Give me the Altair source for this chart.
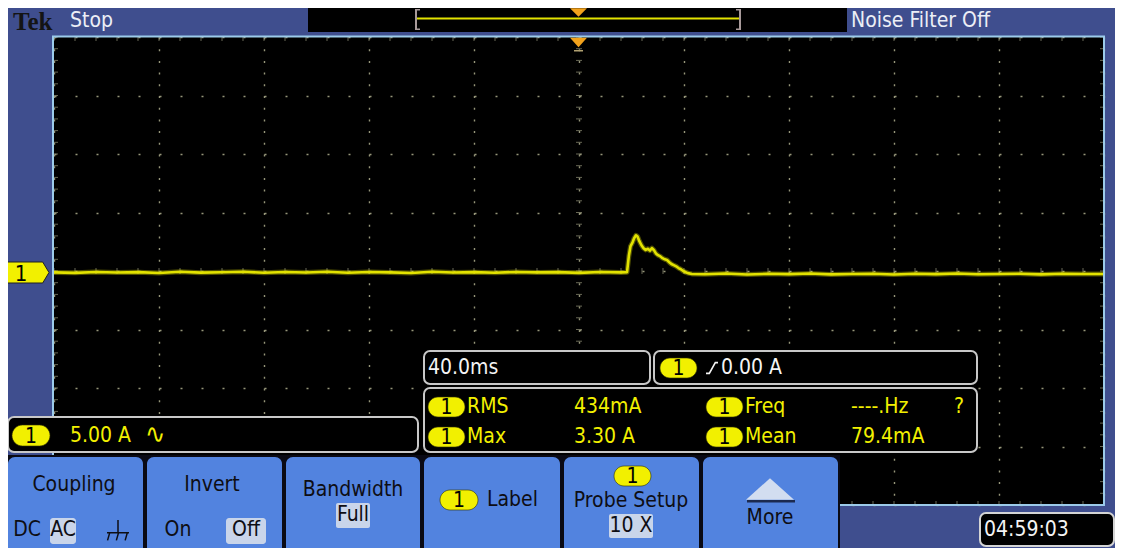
import altair as alt
import pandas as pd

# ---------------- trace data (40 ms/div, 5 A/div) ----------------
pre_t = [-200, -192, -184, -176, -168, -160, -152, -144, -136, -128, -120, -112, -104, -96,
         -88, -80, -72, -64, -56, -48, -40, -32, -24, -16, -8, 0, 8, 16]
pre_i = [-0.12, -0.16, -0.08, -0.13, -0.10, -0.17, -0.07, -0.14, -0.11, -0.06, -0.15, -0.09,
         -0.13, -0.07, -0.15, -0.09, -0.12, -0.17, -0.07, -0.13, -0.10, -0.15, -0.08, -0.12,
         -0.10, -0.16, -0.09, -0.12]
pulse_t = [18.3, 19.0, 19.6, 20.4, 21.0, 21.7, 22.3, 23.0, 23.8, 24.6, 25.4, 26.2, 27.0,
           27.8, 28.5, 29.3, 30.1, 31.0, 31.8, 32.7, 33.5, 34.4, 35.2, 36.1, 37.0, 37.9,
           38.8, 39.7, 40.6, 41.5, 43.0]
pulse_i = [-0.10, 1.30, 2.10, 2.45, 2.80, 3.05, 2.95, 2.55, 2.20, 1.95, 1.80, 1.90, 1.75,
           1.95, 1.80, 1.50, 1.35, 1.25, 1.10, 1.00, 0.95, 0.75, 0.60, 0.50, 0.40, 0.25,
           0.15, 0.00, -0.10, -0.18, -0.25]
post_t = [48, 56, 64, 72, 80, 88, 96, 104, 112, 120, 128, 136, 144, 152, 160, 168, 176,
          184, 192, 200]
post_i = [-0.28, -0.22, -0.30, -0.24, -0.27, -0.21, -0.29, -0.25, -0.23, -0.30, -0.24,
          -0.27, -0.22, -0.28, -0.25, -0.23, -0.29, -0.24, -0.26, -0.25]

time_ms = pre_t + pulse_t + post_t
current_a = pre_i + pulse_i + post_i

# graticule (10 x 8 divisions, 5 minor steps per division)
x_major = [-200 + 40 * k for k in range(11)]
y_major = [-20 + 5 * k for k in range(9)]
x_minor = [-200 + 8 * k for k in range(51)]
y_minor = [-20 + 1 * k for k in range(41)]

# on-screen readouts
status_text = "Stop"
filter_text = "Noise Filter Off"
timebase_text = "40.0ms"
trigger_text = "0.00 A"
scale_text = "5.00 A"
meas_names = ["RMS", "Max", "Freq", "Mean"]
meas_values = ["434mA", "3.30 A", "----.Hz", "79.4mA"]
clock_text = "04:59:03"

# ---------------- styling ----------------
FONT = "DejaVu Sans Condensed, Liberation Sans Narrow, Roboto Condensed, Roboto, sans-serif"
FS = 21
BEZEL = "#3f4e8e"
BTN = "#5283df"
HILITE = "#c9d5ea"
YEL = "#f2f000"
TRACE = "#e2e200"
GRID = "#96967a"
BORDER = "#9ccbea"
BOXLINE = "#c8c8c8"

OX, OY = 54, 37          # page position of plot origin
W, H = 1050, 468

one = pd.DataFrame({"k": [0]})


def X(p):
    return alt.value(p - OX)


def Y(p):
    return alt.value(p - OY)


def rect(x1, y1, x2, y2, fill=None, stroke=None, sw=1.0, r=0):
    kw = dict(cornerRadius=r)
    if fill is None:
        kw["fillOpacity"] = 0
    else:
        kw["fill"] = fill
        kw["fillOpacity"] = 1
    if stroke is not None:
        kw["stroke"] = stroke
        kw["strokeWidth"] = sw
    return alt.Chart(one).mark_rect(**kw).encode(x=X(x1), x2=X(x2), y=Y(y1), y2=Y(y2))


def text(x, y, s, color, size=FS, align="left", font=FONT, weight="normal"):
    return alt.Chart(one).mark_text(
        text=s, color=color, fontSize=size, align=align, baseline="middle",
        font=font, fontWeight=weight
    ).encode(x=X(x), y=Y(y))


def symbol(x, y, path, size, fill=None, stroke=None, sw=1.5):
    kw = dict(shape=path, size=size, opacity=1)
    if fill is not None:
        kw.update(filled=True, fill=fill, fillOpacity=1)
    else:
        kw.update(filled=False, fillOpacity=0)
    if stroke is not None:
        kw.update(stroke=stroke, strokeWidth=sw, strokeOpacity=1)
    else:
        kw.update(strokeWidth=0)
    return alt.Chart(one).mark_point(**kw).encode(x=X(x), y=Y(y))


def pill(x1, y1, x2, y2, size=FS):
    return [rect(x1, y1, x2, y2, fill=YEL, stroke="#303000", sw=0.6, r=(y2 - y1) / 2),
            text((x1 + x2) / 2, (y1 + y2) / 2 + 1, "1", "#000000", size, align="center")]


# ---------------- scales / axes ----------------
xs = alt.Scale(domain=[-200, 200], nice=False, zero=False)
ys = alt.Scale(domain=[-20, 20], nice=False, zero=False)
XAX = alt.Axis(values=x_major, grid=True, gridColor=GRID, gridDash=[2, 9.7], gridWidth=1.4,
               labels=False, ticks=False, domain=False, title=None)
YAX = alt.Axis(values=y_major, grid=True, gridColor=GRID, gridDash=[2, 19], gridWidth=1.4,
               labels=False, ticks=False, domain=False, title=None)


def xe(field):
    return alt.X(field, type="quantitative", scale=xs, axis=XAX)


def ye(field):
    return alt.Y(field, type="quantitative", scale=ys, axis=YAX)


trace_df = pd.DataFrame({"t": time_ms, "i": current_a})
xminor_df = pd.DataFrame({"t": x_minor})
yminor_df = pd.DataFrame({"i": y_minor})

layers = []

# graticule ticks: center cross and edges
layers.append(alt.Chart(xminor_df).mark_tick(orient="vertical", size=6, thickness=1, color=GRID)
              .encode(x=xe("t"), y=alt.datum(0, type="quantitative", scale=ys, axis=YAX)))
layers.append(alt.Chart(yminor_df).mark_tick(orient="horizontal", size=6, thickness=1, color=GRID)
              .encode(y=ye("i"), x=alt.datum(0, type="quantitative", scale=xs, axis=XAX)))
for edge in (20, -20):
    layers.append(alt.Chart(xminor_df).mark_tick(orient="vertical", size=8, thickness=1,
                                                   color=GRID, clip=True)
                  .encode(x=xe("t"), y=alt.datum(edge, type="quantitative", scale=ys, axis=YAX)))
for edge in (-200, 200):
    layers.append(alt.Chart(yminor_df).mark_tick(orient="horizontal", size=8, thickness=1,
                                                   color=GRID, clip=True)
                  .encode(y=ye("i"), x=alt.datum(edge, type="quantitative", scale=xs, axis=XAX)))

# the waveform (a faint wide halo for the noise band, then the trace itself)
layers.append(alt.Chart(trace_df).mark_line(color=TRACE, strokeWidth=5, opacity=0.35, clip=True,
                                            strokeJoin="round")
              .encode(x=xe("t"), y=ye("i")))
layers.append(alt.Chart(trace_df).mark_line(color=TRACE, strokeWidth=2.6, clip=True,
                                            strokeJoin="round")
              .encode(x=xe("t"), y=ye("i")))

# plot border
layers.append(rect(53, 36.5, 1104, 505, fill=None, stroke=BORDER, sw=2))

# ---------------- top bar ----------------
layers.append(text(13, 22, "Tek", "#141414", 25, font="Liberation Serif, DejaVu Serif, serif",
                   weight="bold"))
layers.append(text(70, 21, status_text, "#eceef6", FS))
layers.append(rect(308, 8, 847, 32, fill="#000000"))
layers.append(rect(417, 17.5, 740, 19.5, fill=TRACE))
# record brackets
layers.append(rect(415, 9, 417, 30, fill="#a89a9a"))
layers.append(rect(415, 9, 420, 10.5, fill="#a89a9a"))
layers.append(rect(415, 28.5, 420, 30, fill="#a89a9a"))
layers.append(rect(739, 9, 741, 30, fill="#a89a9a"))
layers.append(rect(736, 9, 741, 10.5, fill="#a89a9a"))
layers.append(rect(736, 28.5, 741, 30, fill="#a89a9a"))
# trigger position markers
layers.append(symbol(578.5, 12.5, "M-1,-0.5 L1,-0.5 L0,0.5 Z", 289, fill="#f2a21c"))
layers.append(symbol(578.5, 42.5, "M-1,-0.55 L1,-0.55 L0,0.55 Z", 289, fill="#f2a21c"))
layers.append(rect(574, 50, 583, 51.5, fill="#b0a070"))
layers.append(text(851, 21, filter_text, "#eceef6", FS))

# channel 1 ground marker
layers.append(symbol(28, 272.5, "M-1,-0.5 L0.7,-0.5 L1,0 L0.7,0.5 L-1,0.5 Z", 1764,
                     fill=YEL, stroke="#202020", sw=1))
layers.append(text(21, 273.5, "1", "#000000", 22, align="center"))

# ---------------- readout boxes ----------------
layers.append(rect(424, 351, 650, 384, fill="#000000", stroke=BOXLINE, sw=2, r=6))
layers.append(text(428, 368, timebase_text, "#f4f4f4", FS))
layers.append(rect(654, 351, 977, 384, fill="#000000", stroke=BOXLINE, sw=2, r=6))
layers += pill(660, 358, 697, 378)
layers.append(symbol(712, 368, "M-1,0.9 L-0.45,0.9 L0.55,-0.9 L1,-0.9", 144,
                     stroke="#f4f4f4", sw=1.6))
layers.append(text(721, 368, trigger_text, "#f4f4f4", FS))

layers.append(rect(424, 388, 977, 452, fill="#000000", stroke=BOXLINE, sw=2, r=6))
row_y = [407, 437, 407, 437]
pill_x = [428, 428, 706, 706]
name_x = [467, 467, 745, 745]
val_x = [574, 574, 851, 851]
for k in range(4):
    layers += pill(pill_x[k], row_y[k] - 10, pill_x[k] + 37, row_y[k] + 10)
    layers.append(text(name_x[k], row_y[k], meas_names[k], YEL, FS))
    layers.append(text(val_x[k], row_y[k], meas_values[k], YEL, FS))
layers.append(text(954, 407, "?", YEL, FS))

layers.append(rect(8, 417, 418, 452, fill="#000000", stroke=BOXLINE, sw=2, r=6))
layers += pill(12, 425, 50, 446)
layers.append(text(70, 435.5, scale_text, YEL, FS))
layers.append(text(145, 435, "\u223f", YEL, 27))

# ---------------- soft-key buttons ----------------
layers.append(rect(8, 455, 840, 560, fill="#0a0a14"))
btn_x = [(8, 143), (147, 282), (286, 420), (424, 560), (564, 699), (703, 838)]
for (a, b) in btn_x:
    layers.append(rect(a, 457, b, 570, fill=BTN, r=7))

INK = "#0e0e14"
layers.append(text(74, 485, "Coupling", INK, FS, align="center"))
layers.append(text(27, 530, "DC", INK, FS, align="center"))
layers.append(rect(50, 518, 76, 544, fill=HILITE, r=3))
layers.append(text(63, 530, "AC", INK, FS, align="center"))
layers.append(symbol(118, 531,
                     "M0,-1 L0,0.15 M-1,0.15 L1,0.15 M-0.75,0.15 L-0.95,0.85 "
                     "M0.05,0.15 L-0.15,0.85 M0.85,0.15 L0.65,0.85",
                     484, stroke=INK, sw=1.5))

layers.append(text(212, 485, "Invert", INK, FS, align="center"))
layers.append(text(178, 530, "On", INK, FS, align="center"))
layers.append(rect(226, 518, 266, 544, fill=HILITE, r=3))
layers.append(text(246, 530, "Off", INK, FS, align="center"))

layers.append(text(353, 490, "Bandwidth", INK, FS, align="center"))
layers.append(rect(336, 503, 370, 528, fill=HILITE, r=2))
layers.append(text(353, 515, "Full", INK, FS, align="center"))

layers += pill(440, 490, 478, 510)
layers.append(text(487, 500, "Label", INK, FS))

layers += pill(614, 466, 651, 486)
layers.append(text(631, 501, "Probe Setup", INK, FS, align="center"))
layers.append(rect(609, 514, 653, 538, fill=HILITE, r=2))
layers.append(text(631, 526, "10 X", INK, FS, align="center"))

layers.append(symbol(770, 489, "M-1,0.45 L1,0.45 L0,-0.45 Z", 2304, fill="#d2ddf0"))
layers.append(rect(747, 500, 795, 502.5, fill="#1c2a50"))
layers.append(text(770, 518, "More", INK, FS, align="center"))

# clock
layers.append(rect(980, 513, 1114, 546, fill="#000000", stroke="#d4d4d4", sw=2, r=6))
layers.append(text(984, 530, clock_text, "#f4f4f4", FS))

chart = alt.layer(*layers).properties(
    width=W, height=H,
    padding={"left": 46, "top": 29, "right": 11, "bottom": 43},
    autosize=alt.AutoSizeParams(type="none"),
    background=BEZEL,
).configure_view(fill="#000000", strokeWidth=0)

chart.save("out.html", embed_options={"renderer": "svg", "actions": False})
